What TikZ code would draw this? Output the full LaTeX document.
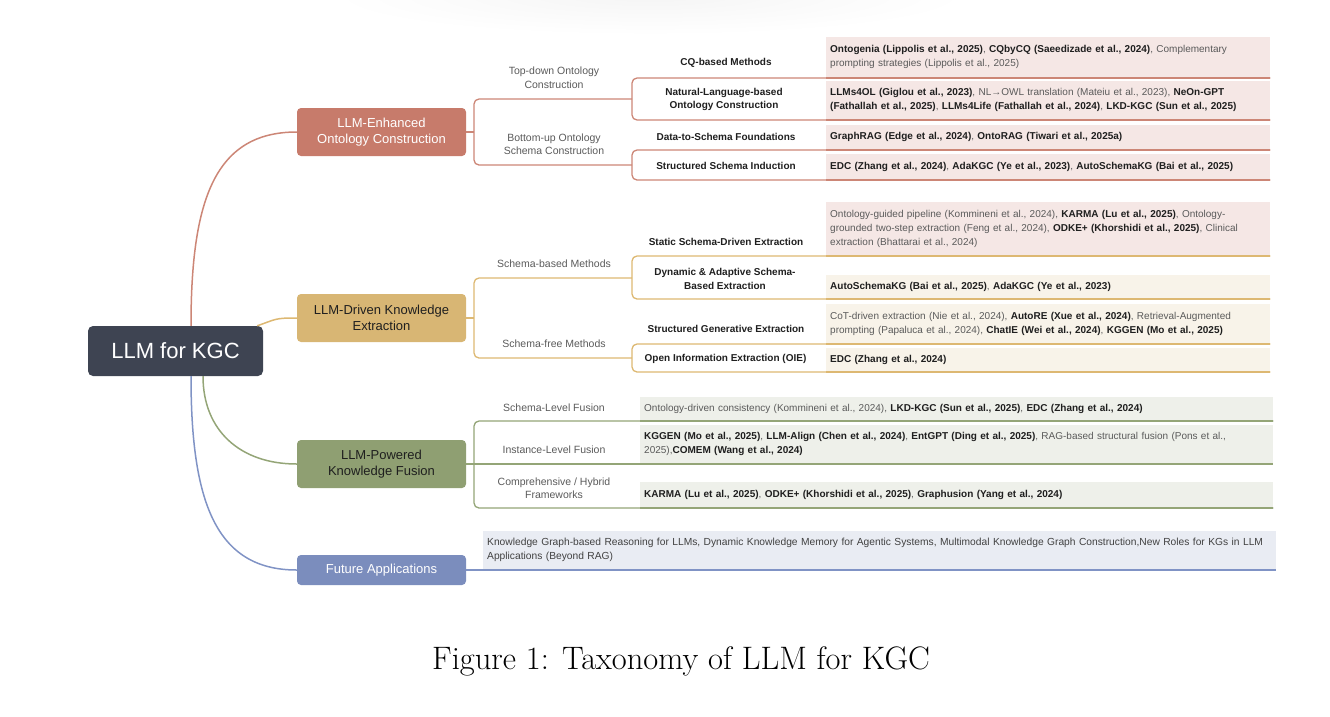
\documentclass[tikz,border=0pt]{standalone}
\usepackage{fontspec}
\usetikzlibrary{positioning}
\newfontfamily\dfont{Liberation Sans}
\definecolor{rootc}{HTML}{3E4452}
\definecolor{fillA}{HTML}{C77B6B}
\definecolor{fillB}{HTML}{D8B674}
\definecolor{fillC}{HTML}{8F9F72}
\definecolor{fillD}{HTML}{7B8DBD}
\definecolor{lineAc}{HTML}{CC8676}
\definecolor{lineBc}{HTML}{DDB872}
\definecolor{lineCc}{HTML}{94A577}
\definecolor{lineDc}{HTML}{8093C5}
\definecolor{leafA}{HTML}{F5E7E5}
\definecolor{leafB}{HTML}{F8F3E9}
\definecolor{leafC}{HTML}{EEF0EA}
\definecolor{leafD}{HTML}{E9ECF3}
\definecolor{inkdark}{HTML}{1F1F1F}
\definecolor{inkgray}{HTML}{5A5A5A}
\newcommand{\bib}[1]{{\bfseries\color{inkdark}#1}}
\tikzstyle{root}=[rectangle,fill=rootc,text=white,rounded corners=5,minimum width=175,minimum height=50,font=\dfont\fontsize{22}{26}\selectfont]
\tikzstyle{branch}=[rectangle,rounded corners=4,minimum width=169,minimum height=48,inner sep=0,align=center,font=\dfont\fontsize{13}{16.5}\selectfont]
\tikzstyle{midlabel}=[inner sep=0,align=center,text=inkgray,font=\dfont\fontsize{10.5}{13.5}\selectfont]
\tikzstyle{sublabel}=[inner sep=0,align=center,text=inkdark,font=\dfont\bfseries\fontsize{10}{13.5}\selectfont]
\tikzstyle{leaf}=[rectangle,anchor=south west,inner xsep=4,inner ysep=0,align=left,text=inkgray,font=\dfont\fontsize{10}{14}\selectfont]
\tikzstyle{leafa}=[leaf,fill=leafA,text width=436]
\tikzstyle{leafb}=[leaf,fill=leafB,text width=436]
\tikzstyle{leafc}=[leaf,fill=leafC,text width=625]
\tikzstyle{leafd}=[leaf,fill=leafD,text width=785,text=inkdark!85,font=\dfont\fontsize{10.25}{14}\selectfont]
\tikzstyle{lineA}=[draw=lineAc,line width=1.3]
\tikzstyle{lineB}=[draw=lineBc,line width=1.3]
\tikzstyle{lineC}=[draw=lineCc,line width=1.3]
\tikzstyle{lineD}=[draw=lineDc,line width=1.3]

\begin{document}
\begin{tikzpicture}[x=1pt,y=-1pt]
    \useasboundingbox (0,0) rectangle (1330,716);
    \shade[inner color=black!4,outer color=white] (650,-5) ellipse [x radius=320,y radius=40];

    \node[root] (root) at (175.5,351) {LLM for KGC};
    \node[branch,fill=fillA,text=white] (b1) at (381.5,132) {LLM-Enhanced\\Ontology Construction};
    \node[branch,fill=fillB,text=inkdark] (b2) at (381.5,318) {LLM-Driven Knowledge\\Extraction};
    \node[branch,fill=fillC,text=inkdark] (b3) at (381.5,464) {LLM-Powered\\Knowledge Fusion};
    \node[branch,fill=fillD,text=white,minimum height=30] (b4) at (381.5,570) {Future Applications};

    % curves out of the root
    \coordinate (r1) at ([xshift=15.5]root.north);
    \coordinate (r2) at ([xshift=-6]root.north east);
    \coordinate (r3) at ([xshift=27.5]root.south);
    \coordinate (r4) at ([xshift=15.5]root.south);
    \draw[lineA,line width=1.5] (r1) .. controls +(0,-126) and +(-82,0) .. (b1.west);
    \draw[lineB,line width=1.5] (r2) .. controls +(20,-7) and +(-22,0) .. (b2.west);
    \draw[lineC,line width=1.5] (r3) .. controls +(0,54) and +(-57,0) .. (b3.west);
    \draw[lineD,line width=1.5] (r4) .. controls +(0,124) and +(-82,0) .. (b4.west);

    % ontology construction
    \node[midlabel] (tdn) at (554,77.7) {Top-down Ontology\\Construction};
    \node[midlabel] (bun) at (554,144) {Bottom-up Ontology\\Schema Construction};
    \node[sublabel] (cqm) at (726,62.7) {CQ-based Methods};
    \node[sublabel] (nlm) at (724,99.5) {Natural-Language-based\\Ontology Construction};
    \node[sublabel] (dsm) at (726,136.7) {Data-to-Schema Foundations};
    \node[sublabel] (ssm) at (726,165.7) {Structured Schema Induction};
    \node[leafa,minimum height=41] (cq) at (826,78) {\bib{Ontogenia (Lippolis et al., 2025)}, \bib{CQbyCQ (Saeedizade et al., 2024)}, Complementary\\prompting strategies (Lippolis et al., 2025)};
    \node[leafa,minimum height=39] (nl) at (826,120) {\bib{LLMs4OL (Giglou et al., 2023)}, NL→OWL translation (Mateiu et al., 2023), \bib{NeOn-GPT}\\\bib{(Fathallah et al., 2025)}, \bib{LLMs4Life (Fathallah et al., 2024)}, \bib{LKD-KGC (Sun et al., 2025)}};
    \node[leafa,minimum height=25] (ds) at (826,150) {\bib{GraphRAG (Edge et al., 2024)}, \bib{OntoRAG (Tiwari et al., 2025a)}};
    \node[leafa,minimum height=26] (ss) at (826,180) {\bib{EDC (Zhang et al., 2024)}, \bib{AdaKGC (Ye et al., 2023)}, \bib{AutoSchemaKG (Bai et al., 2025)}};
    \coordinate (j1) at (474,132);
    \coordinate (m1) at (632,99);
    \coordinate (m2) at (632,165);
    \draw[lineA] (b1.east) -- (j1);
    \draw[lineA,rounded corners=5] (m1) -- (m1 -| j1) -- (m2 -| j1) -- (m2);
    \draw[lineA,rounded corners=5] (cq.south east) -- (cq.south east -| m1) -- (nl.south east -| m1) -- (nl.south east);
    \draw[lineA,rounded corners=5] (ds.south east) -- (ds.south east -| m2) -- (ss.south east -| m2) -- (ss.south east);
    \foreach \n in {cq,nl,ds,ss}
        \draw[lineA,line width=2] (\n.south west) -- (\n.south east);

    % knowledge extraction
    \node[midlabel] (sbm) at (554,264) {Schema-based Methods};
    \node[midlabel] (sfm) at (554,344) {Schema-free Methods};
    \node[sublabel] (sdm) at (726,241.7) {Static Schema-Driven Extraction};
    \node[sublabel] (dam) at (725,278.7) {Dynamic \& Adaptive Schema-\\Based Extraction};
    \node[sublabel] (sgm) at (726,329.3) {Structured Generative Extraction};
    \node[sublabel] (oim) at (725.5,359) {Open Information Extraction (OIE)};
    \node[leafa,minimum height=54] (st) at (826,256) {Ontology-guided pipeline (Kommineni et al., 2024), \bib{KARMA (Lu et al., 2025)}, Ontology-\\grounded two-step extraction (Feng et al., 2024), \bib{ODKE+ (Khorshidi et al., 2025)}, Clinical\\extraction (Bhattarai et al., 2024)};
    \node[leafb,minimum height=24] (dy) at (826,299) {\bib{AutoSchemaKG (Bai et al., 2025)}, \bib{AdaKGC (Ye et al., 2023)}};
    \node[leafb,minimum height=40] (sg) at (826,344) {CoT-driven extraction (Nie et al., 2024), \bib{AutoRE (Xue et al., 2024)}, Retrieval-Augmented\\prompting (Papaluca et al., 2024), \bib{ChatIE (Wei et al., 2024)}, \bib{KGGEN (Mo et al., 2025)}};
    \node[leafb,minimum height=24] (oi) at (826,372) {\bib{EDC (Zhang et al., 2024)}};
    \coordinate (j2) at (474,318);
    \coordinate (m3) at (632,278);
    \coordinate (m4) at (632,358);
    \draw[lineB] (b2.east) -- (j2);
    \draw[lineB,rounded corners=5] (m3) -- (m3 -| j2) -- (m4 -| j2) -- (m4);
    \draw[lineB,rounded corners=5] (st.south east) -- (st.south east -| m3) -- (dy.south east -| m3) -- (dy.south east);
    \draw[lineB,rounded corners=5] (sg.south east) -- (sg.south east -| m4) -- (oi.south east -| m4) -- (oi.south east);
    \foreach \n in {st,dy,sg,oi}
        \draw[lineB,line width=2] (\n.south west) -- (\n.south east);

    % knowledge fusion
    \node[midlabel] (slm) at (554,407.7) {Schema-Level Fusion};
    \node[midlabel] (ilm) at (554,450) {Instance-Level Fusion};
    \node[midlabel] (chm) at (554,488) {Comprehensive / Hybrid\\Frameworks};
    \node[leafc,minimum height=24] (sl) at (640,421) {Ontology-driven consistency (Kommineni et al., 2024), \bib{LKD-KGC (Sun et al., 2025)}, \bib{EDC (Zhang et al., 2024)}};
    \node[leafc,minimum height=39] (il) at (640,464) {\bib{KGGEN (Mo et al., 2025)}, \bib{LLM-Align (Chen et al., 2024)}, \bib{EntGPT (Ding et al., 2025)}, RAG-based structural fusion (Pons et al.,\\2025),\bib{COMEM (Wang et al., 2024)}};
    \node[leafc,minimum height=26] (ch) at (640,508) {\bib{KARMA (Lu et al., 2025)}, \bib{ODKE+ (Khorshidi et al., 2025)}, \bib{Graphusion (Yang et al., 2024)}};
    \coordinate (j3) at (474,464);
    \draw[lineC] (b3.east) -- (il.south east);
    \draw[lineC,rounded corners=5] (sl.south east) -- (sl.south east -| j3) -- (ch.south east -| j3) -- (ch.south east);
    \foreach \n in {sl,il,ch}
        \draw[lineC,line width=2] (\n.south west) -- (\n.south east);

    % future applications
    \node[leafd,minimum height=39] (fa) at (483,570) {Knowledge Graph-based Reasoning for LLMs, Dynamic Knowledge Memory for Agentic Systems, Multimodal Knowledge Graph Construction,New Roles for KGs in LLM\\Applications (Beyond RAG)};
    \draw[lineD] (b4.east) -- (fa.south east);

    \node (cap) at (681,661) {\fontsize{32.5}{37}\selectfont Figure 1: Taxonomy of LLM for KGC};
\end{tikzpicture}
\end{document}
